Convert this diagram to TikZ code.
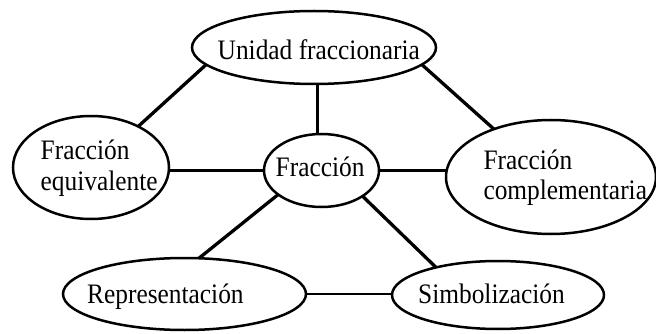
\documentclass[tikz,border=0pt]{standalone}
\usepackage{fontspec}
\setmainfont[FakeStretch=0.9]{Liberation Serif}
\usetikzlibrary{shapes.geometric}

\tikzset{
  bubble/.style={draw, ellipse, line width=2.5pt, inner sep=0pt, outer sep=0pt},
  word/.style={inner sep=0pt, anchor=base west, align=left,
               font=\fontsize{28.2}{31}\selectfont},
  heavy/.style={line width=3.3pt},
  light/.style={line width=2.3pt}
}

\begin{document}
\begin{tikzpicture}[x=1pt, y=-1pt]
  \useasboundingbox (0,0) rectangle (656,334);

  % concept bubbles
  \node[bubble, minimum width=244pt, minimum height=73pt]  (U) at (314,47.5)  {};
  \node[bubble, minimum width=156pt, minimum height=103pt] (E) at (91,167.5)  {};
  \node[bubble, minimum width=115pt, minimum height=73pt]  (C) at (321.5,170.5) {};
  \node[bubble, minimum width=210pt, minimum height=114pt] (K) at (551,177)   {};
  \node[bubble, minimum width=243pt, minimum height=72pt]  (R) at (184.5,294) {};
  \node[bubble, minimum width=212pt, minimum height=68pt]  (S) at (498,295)   {};

  % labels (two-line labels are anchored at the baseline of their last line)
  \node[word] (tU) at (217.5,60)  {Unidad fraccionaria};
  \node[word] (tE) at (40.5,190)  {Fracción\\equivalente};
  \node[word] (tC) at (275.5,176.7) {Fracción};
  \node[word] (tK) at (483.3,200) {Fracción\\complementaria};
  \node[word] (tR) at (87,303.3)  {Representación};
  \node[word] (tS) at (418,303.3) {Simbolización};

  % links
  \draw[heavy] (U.189) -- (E.41);
  \draw[light] ([xshift=-4pt]C.north) -- ([xshift=-4pt]C.north |- U.south);
  \draw[heavy] (U.-9.7) -- (K.140.6);
  \draw[light] (C.west -| E.east) -- (C.west);
  \draw[light] (C.east) -- (C.east -| K.west);
  \draw[heavy] (C.209.4) -- (R.68.4);
  \draw[heavy] (C.-32.1) -- (S.156.8);
  \draw[light] (R.east) -- (R.east -| S.west);
\end{tikzpicture}
\end{document}
